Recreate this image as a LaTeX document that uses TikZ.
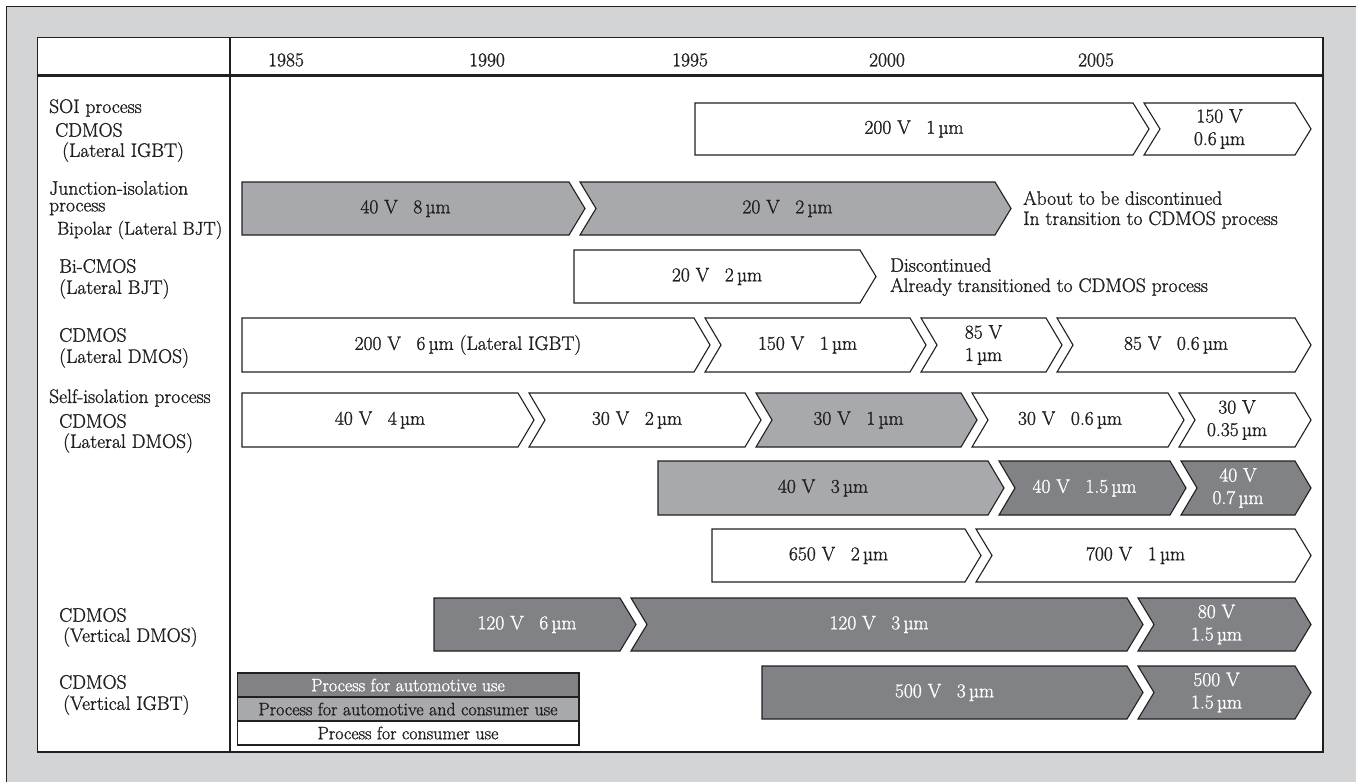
\documentclass[tikz,border=0pt]{standalone}
\usepackage{fontspec}
\setmainfont{Latin Modern Roman}[FakeBold=1.2]
\definecolor{bg}{RGB}{211,212,214}
\definecolor{gmid}{RGB}{167,169,172}
\definecolor{gdark}{RGB}{128,130,133}
\definecolor{ink}{RGB}{35,31,32}
\newcommand{\gp}{\hspace{0.8em}}
\tikzset{
  shp/.style={draw=ink, line width=1.1pt, line join=miter},
  chw/.style={shp, fill=white},
  chm/.style={shp, fill=gmid},
  chd/.style={shp, fill=gdark},
  lbl/.style={font=\fontsize{19.5}{22.5}\selectfont, inner sep=0pt, text=ink, align=center},
  lblw/.style={lbl, text=white},
  side/.style={font=\fontsize{19.5}{22.5}\selectfont, inner sep=0pt, text=ink, anchor=west},
  leg/.style={font=\fontsize{18}{20}\selectfont, inner sep=0pt, text=ink},
}
\newcommand{\chevF}[8]{%
  \draw[#2] (#4,#6) -- (#5,#6) -- ({#5+16},{(#6+#7)/2}) -- (#5,#7) -- (#4,#7) -- cycle;
  \node[#3] (#1) at ({(#4+#5)/2},{(#6+#7)/2}) {#8};}
\newcommand{\chevN}[8]{%
  \draw[#2] (#4,#6) -- (#5,#6) -- ({#5+16},{(#6+#7)/2}) -- (#5,#7) -- (#4,#7) -- ({#4+16},{(#6+#7)/2}) -- cycle;
  \node[#3] (#1) at ({(#4+#5)/2},{(#6+#7)/2}) {#8};}
\begin{document}
\begin{tikzpicture}[x=1pt,y=-1pt]
\clip (0,0) rectangle (1356,781);
\fill[white] (0,0) rectangle (1356,781);
\draw[fill=bg, draw=ink, line width=1pt] (6,7) rectangle (1420,830);
\draw[fill=white, draw=ink, line width=1.2pt] (37.5,37.5) rectangle (1323,752);
\draw[ink, line width=1.2pt] (230,37.5) -- (230,752);
\draw[ink, line width=2.4pt] (37.5,75.5) -- (1323,75.5);
% years
\node[lbl] (y85) at (286,60) {1985};
\node[lbl] (y90) at (487,60) {1990};
\node[lbl] (y95) at (690,60) {1995};
\node[lbl] (y00) at (887,60) {2000};
\node[lbl] (y05) at (1096,60) {2005};
% side labels
\node[side] (s1a) at (49,108) {SOI process};
\node[side] (s1b) at (55,130) {CDMOS};
\node[side] (s1c) at (62,152) {(Lateral IGBT)};
\node[side] (s2a) at (49,188) {Junction-isolation};
\node[side] (s2b) at (49,209) {process};
\node[side, font=\fontsize{18.5}{22.5}\selectfont] (s2c) at (57,230) {Bipolar (Lateral BJT)};
\node[side] (s3a) at (59,266) {Bi-CMOS};
\node[side] (s3b) at (59,289) {(Lateral BJT)};
\node[side] (s4a) at (59,335) {CDMOS};
\node[side] (s4b) at (59,358) {(Lateral DMOS)};
\node[side] (s5a) at (49,398) {Self-isolation process};
\node[side] (s5b) at (59,421) {CDMOS};
\node[side] (s5c) at (63,443) {(Lateral DMOS)};
\node[side] (s8a) at (59,615) {CDMOS};
\node[side] (s8b) at (63,637) {(Vertical DMOS)};
\node[side] (s9a) at (59,682) {CDMOS};
\node[side] (s9b) at (63,705) {(Vertical IGBT)};
% row 1
\chevF{r1a}{chw}{lbl}{695}{1133}{103}{155}{200 V\gp 1\,µm}
\chevN{r1b}{chw}{lbl}{1144}{1295}{103}{155}{150 V\\0.6\,µm}
% row 2
\chevF{r2a}{chm}{lbl}{242}{569}{182}{235}{40 V\gp 8\,µm}
\chevN{r2b}{chm}{lbl}{580}{995}{182}{235}{20 V\gp 2\,µm}
\node[side] (n2a) at (1023,198) {About to be discontinued};
\node[side] (n2b) at (1023,220) {In transition to CDMOS process};
% row 3
\chevF{r3a}{chw}{lbl}{574}{860}{250}{303}{20 V\gp 2\,µm}
\node[side] (n3a) at (890,265) {Discontinued};
\node[side] (n3b) at (890,287) {Already transitioned to CDMOS process};
% row 4
\chevF{r4a}{chw}{lbl}{242}{694}{318}{372}{200 V\gp 6\,µm (Lateral IGBT)}
\chevN{r4b}{chw}{lbl}{705}{910}{318}{372}{150 V\gp 1\,µm}
\chevN{r4c}{chw}{lbl}{921}{1046}{318}{372}{85 V\\1\,µm}
\chevN{r4d}{chw}{lbl}{1057}{1295}{318}{372}{85 V\gp 0.6\,µm}
% row 5
\chevF{r5a}{chw}{lbl}{242}{518}{393}{447}{40 V\gp 4\,µm}
\chevN{r5b}{chw}{lbl}{529}{745}{393}{447}{30 V\gp 2\,µm}
\chevN{r5c}{chm}{lbl}{756}{961}{393}{447}{30 V\gp 1\,µm}
\chevN{r5d}{chw}{lbl}{972}{1168}{393}{447}{30 V\gp 0.6\,µm}
\chevN{r5e}{chw}{lbl}{1179}{1295}{393}{447}{30 V\\0.35\,µm}
% row 6
\chevF{r6a}{chm}{lbl}{658}{988}{461}{515}{40 V\gp 3\,µm}
\chevN{r6b}{chd}{lblw}{999}{1170}{461}{515}{40 V\gp 1.5\,µm}
\chevN{r6c}{chd}{lblw}{1181}{1295}{461}{515}{40 V\\0.7\,µm}
% row 7
\chevF{r7a}{chw}{lbl}{712}{965}{529}{582}{650 V\gp 2\,µm}
\chevN{r7b}{chw}{lbl}{976}{1295}{529}{582}{700 V\gp 1\,µm}
% row 8
\chevF{r8a}{chd}{lblw}{434}{620}{598}{651}{120 V\gp 6\,µm}
\chevN{r8b}{chd}{lblw}{631}{1127}{598}{651}{120 V\gp 3\,µm}
\chevN{r8c}{chd}{lblw}{1138}{1295}{598}{651}{80 V\\1.5\,µm}
% row 9
\chevF{r9a}{chd}{lblw}{762}{1127}{666}{719}{500 V\gp 3\,µm}
\chevN{r9b}{chd}{lblw}{1138}{1295}{666}{719}{500 V\\1.5\,µm}
% legend
\draw[shp, fill=gdark] (237.5,673) rectangle (579,697);
\draw[shp, fill=gmid] (237.5,697) rectangle (579,721);
\draw[shp, fill=white] (237.5,721) rectangle (579,745);
\node[leg, text=white] (lg1) at (408,685) {Process for automotive use};
\node[leg] (lg2) at (408,709) {Process for automotive and consumer use};
\node[leg] (lg3) at (408,733) {Process for consumer use};
\end{tikzpicture}
\end{document}
